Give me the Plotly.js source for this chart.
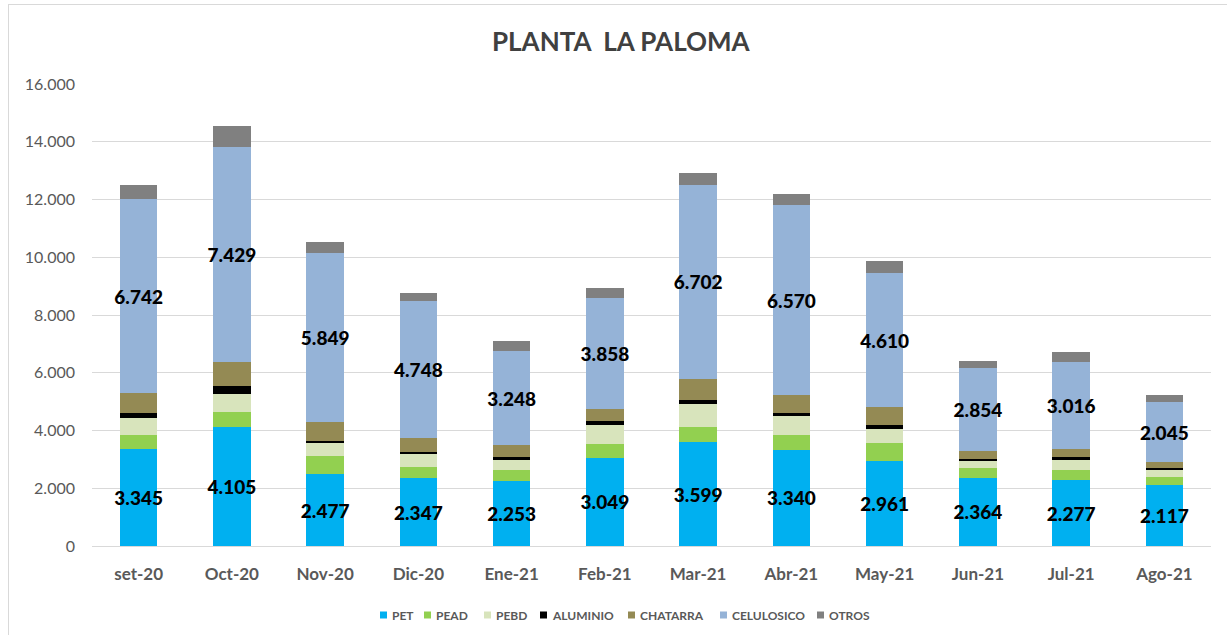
<!DOCTYPE html>
<html>
<head>
<meta charset="utf-8">
<script src="https://cdn.plot.ly/plotly-3.0.1.min.js"></script>
<style>
  html, body { margin: 0; padding: 0; background: #ffffff; }
  #chart { width: 1227px; height: 635px; }
  #frame { position: absolute; left: 8px; top: 4px; width: 1230px; height: 640px;
           border-left: 1px solid #d9d9d9; border-top: 1px solid #d9d9d9; pointer-events: none; }
</style>
</head>
<body>
<div id="chart"></div>
<div id="frame"></div>
<script>
const months = ["set-20","Oct-20","Nov-20","Dic-20","Ene-21","Feb-21","Mar-21","Abr-21","May-21","Jun-21","Jul-21","Ago-21"];
const PET        = [3345,4105,2477,2347,2253,3049,3599,3340,2961,2364,2277,2117];
const PEAD       = [484,542,623,380,392,473,519,519,611,346,369,277];
const PEBD       = [588,634,461,450,323,669,807,634,496,219,346,231];
const ALUMINIO   = [173,265,81,92,115,138,138,127,138,92,104,81];
const CHATARRA   = [692,842,657,484,415,404,738,611,623,277,254,219];
const CELULOSICO = [6742,7429,5849,4748,3248,3858,6702,6570,4610,2854,3016,2045];
const OTROS      = [484,715,392,254,357,357,404,392,438,265,357,254];

const series = [
  {name: "PET", y: PET, color: "#00B0F0", label: true},
  {name: "PEAD", y: PEAD, color: "#92D050", label: false},
  {name: "PEBD", y: PEBD, color: "#D8E4BC", label: false},
  {name: "ALUMINIO", y: ALUMINIO, color: "#000000", label: false},
  {name: "CHATARRA", y: CHATARRA, color: "#948A54", label: false},
  {name: "CELULOSICO", y: CELULOSICO, color: "#95B3D7", label: true},
  {name: "OTROS", y: OTROS, color: "#808080", label: false}
];

const traces = series.map(s => {
  const t = {
    type: "bar",
    name: s.name,
    x: months,
    y: s.y,
    marker: {color: s.color, line: {width: 0}},
    hoverinfo: "name+y",
    showlegend: false
  };
  if (s.label) {
    t.texttemplate = "%{y:,.0f}";
    t.textposition = "inside";
    t.insidetextanchor = "middle";
    t.constraintext = "none";
    t.textangle = 0;
    t.insidetextfont = {family: "Lato, sans-serif", size: 19, color: "#000000", weight: 900};
  } else {
    t.textposition = "none";
  }
  return t;
});

// Plot area in page pixels (for placing the legend and title)
const PL = 92, PR = 1211, PT = 84, PB = 546;
const px = v => (v - PL) / (PR - PL);
const py = v => (PB - v) / (PB - PT);

// Legend layout (page pixel x of each legend square's left edge)
const legendX = [380, 424, 484, 540, 628, 720, 817];
const legendY = 615;
const shapes = [];
const annotations = [{
  text: "<b>PLANTA  LA PALOMA</b>",
  xref: "paper", yref: "paper",
  x: px(621), y: py(41),
  xanchor: "center", yanchor: "middle",
  showarrow: false,
  font: {family: "Lato, sans-serif", size: 26, color: "#404040"}
}];
series.forEach((s, i) => {
  const x0 = legendX[i];
  shapes.push({
    type: "rect", xref: "paper", yref: "paper",
    x0: px(x0), x1: px(x0 + 7), y0: py(legendY - 3.5), y1: py(legendY + 3.5),
    fillcolor: s.color, line: {width: 0}
  });
  annotations.push({
    text: "<b>" + s.name + "</b>",
    xref: "paper", yref: "paper",
    x: px(x0 + 10), y: py(legendY),
    xanchor: "left", yanchor: "middle",
    showarrow: false,
    font: {family: "Lato, sans-serif", size: 12, color: "#595959"}
  });
});

const layout = {
  width: 1227,
  height: 635,
  barmode: "stack",
  bargap: 0.6,
  separators: ",.",
  paper_bgcolor: "#ffffff",
  plot_bgcolor: "#ffffff",
  margin: {l: PL, r: 1227 - PR, t: PT, b: 635 - PB},
  font: {family: "Lato, sans-serif", color: "#595959"},
  showlegend: false,
  annotations: annotations,
  shapes: shapes,
  xaxis: {
    type: "category",
    showgrid: false,
    zeroline: false,
    showline: false,
    ticks: "",
    ticklabelstandoff: 16,
    tickfont: {family: "Lato, sans-serif", size: 17, color: "#595959", weight: "bold"}
  },
  yaxis: {
    range: [0, 16000],
    tickvals: [0,2000,4000,6000,8000,10000,12000,14000,16000],
    tickformat: ",.0f",
    showgrid: true,
    gridcolor: "#d9d9d9",
    gridwidth: 1,
    zeroline: true,
    zerolinecolor: "#d9d9d9",
    zerolinewidth: 1,
    showline: false,
    ticks: "",
    ticklabelstandoff: 16,
    tickfont: {family: "Lato, sans-serif", size: 16, color: "#595959"}
  }
};

Plotly.newPlot("chart", traces, layout, {displayModeBar: false, staticPlot: true});
</script>
</body>
</html>
